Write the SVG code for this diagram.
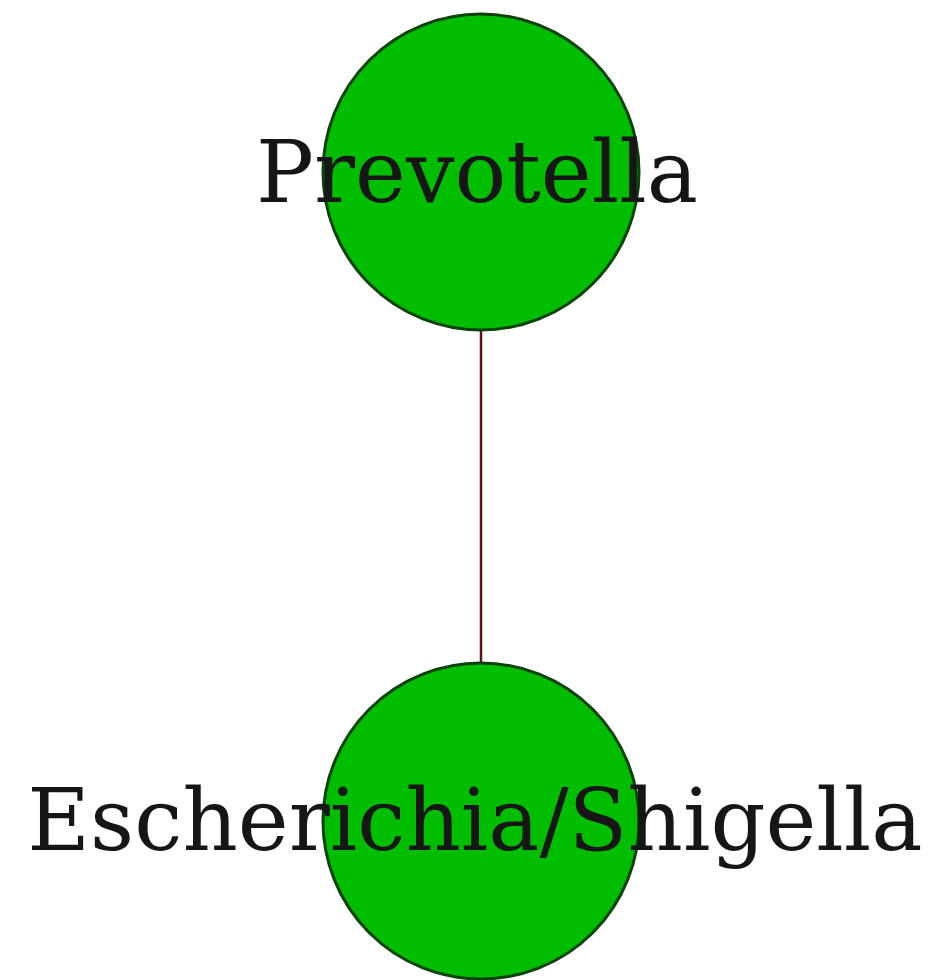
<svg xmlns="http://www.w3.org/2000/svg" width="933" height="980" viewBox="0 0 933 980">
<style>
.node{fill:#00bd00;stroke:#0a420a;stroke-width:3}
.lbl{font-family:"DejaVu Serif","Liberation Serif",serif;font-size:86px;fill:#161616;text-anchor:middle}
.edge{stroke:#5a1414;stroke-width:2.5;fill:none}
</style>
<rect width="933" height="980" fill="#ffffff"/>
<g id="edges">
<line class="edge" x1="481" y1="330" x2="481" y2="663"/>
</g>
<g id="node-prevotella">
<circle class="node" cx="481" cy="172" r="158"/>
<text class="lbl" x="477" y="202">Prevotella</text>
</g>
<g id="node-escherichia">
<circle class="node" cx="481" cy="821" r="158"/>
<text class="lbl" x="475" y="850">Escherichia/Shigella</text>
</g>
</svg>
